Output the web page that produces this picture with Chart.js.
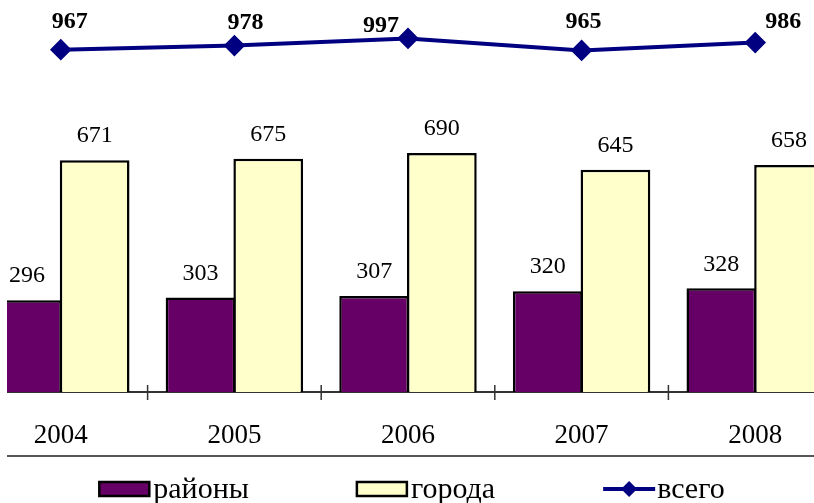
<!DOCTYPE html>
<html>
<head>
<meta charset="utf-8">
<script src="https://cdn.jsdelivr.net/npm/chart.js@4.4.1/dist/chart.umd.min.js"></script>
<style>
  html, body { margin: 0; padding: 0; background: #fff; }
  #clip { position: absolute; left: 7px; top: 0; width: 807px; height: 503px; overflow: hidden; }
  #box { position: absolute; left: -33px; top: 0; width: 868px; height: 503px; }
</style>
</head>
<body>
<div id="clip"><div id="box"><canvas id="chart"></canvas></div></div>
<script>
// data
const years = ['2004', '2005', '2006', '2007', '2008'];
const rayony = [296, 303, 307, 320, 328];
const goroda = [671, 675, 690, 645, 658];
const vsego = [967, 978, 997, 965, 986];

const serif = "'Liberation Serif', 'Times New Roman', serif";
// little nudges for the total labels, like in the original
const totalLabelShift = [[9, -28], [11, -23], [-27, -13], [2, -29], [28, -21]];

// labels, tick marks, separator and legend
const extras = {
  id: 'extras',
  afterDatasetsDraw(chart) {
    const ctx = chart.ctx;
    const xs = chart.scales.x;
    const bottom = chart.chartArea.bottom;
    ctx.save();
    ctx.textAlign = 'center';
    ctx.textBaseline = 'middle';
    ctx.fillStyle = '#000';

    // bar values
    ctx.font = '24px ' + serif;
    [0, 1].forEach(di => {
      chart.getDatasetMeta(di).data.forEach((bar, i) => {
        ctx.fillText(chart.data.datasets[di].data[i], bar.x, bar.y - 24);
      });
    });

    // totals
    ctx.font = 'bold 24px ' + serif;
    chart.getDatasetMeta(2).data.forEach((pt, i) => {
      const s = totalLabelShift[i];
      ctx.fillText(vsego[i], pt.x + s[0], pt.y + s[1]);
    });

    // tick marks between years
    ctx.strokeStyle = '#333';
    ctx.lineWidth = 1.5;
    const step = xs.getPixelForTick(1) - xs.getPixelForTick(0);
    for (let i = 0; i <= years.length; i++) {
      const px = xs.getPixelForTick(0) + (i - 0.5) * step;
      ctx.beginPath();
      ctx.moveTo(px, bottom - 7);
      ctx.lineTo(px, bottom + 8);
      ctx.stroke();
    }

    // separator under the years
    ctx.strokeStyle = '#555';
    ctx.lineWidth = 2;
    ctx.beginPath();
    ctx.moveTo(0, xs.bottom);
    ctx.lineTo(chart.width, xs.bottom);
    ctx.stroke();

    // legend
    ctx.font = '30px ' + serif;
    ctx.textAlign = 'left';
    const sets = chart.data.datasets;
    const gap = 108;
    const widths = sets.map(d => 54 + ctx.measureText(d.label).width);
    const total = widths.reduce((a, b) => a + b, 0) + gap * (sets.length - 1);
    let lx = chart.width / 2 + 4 - total / 2;
    const ly = xs.bottom + 33;
    sets.forEach((d, i) => {
      if (d.type === 'line') {
        ctx.strokeStyle = d.borderColor;
        ctx.lineWidth = 4;
        ctx.beginPath();
        ctx.moveTo(lx, ly);
        ctx.lineTo(lx + 52, ly);
        ctx.stroke();
        ctx.fillStyle = d.borderColor;
        ctx.beginPath();
        ctx.moveTo(lx + 26, ly - 8);
        ctx.lineTo(lx + 34, ly);
        ctx.lineTo(lx + 26, ly + 8);
        ctx.lineTo(lx + 18, ly);
        ctx.closePath();
        ctx.fill();
      } else {
        ctx.fillStyle = d.backgroundColor;
        ctx.fillRect(lx, ly - 7, 50, 14);
        ctx.strokeStyle = '#000';
        ctx.lineWidth = 2.5;
        ctx.strokeRect(lx, ly - 7, 50, 14);
      }
      ctx.fillStyle = '#000';
      ctx.fillText(d.label, lx + 54, ly + 1);
      lx += widths[i] + gap;
    });
    ctx.restore();
  }
};

new Chart(document.getElementById('chart'), {
  type: 'bar',
  data: {
    labels: years,
    datasets: [
      {
        label: 'районы',
        data: rayony,
        backgroundColor: '#660066',
        borderColor: '#000',
        borderWidth: 2.5,
        order: 1
      },
      {
        label: 'города',
        data: goroda,
        backgroundColor: '#FFFFCC',
        borderColor: '#000',
        borderWidth: 2.5,
        order: 1
      },
      {
        type: 'line',
        label: 'всего',
        data: vsego,
        borderColor: '#000080',
        backgroundColor: '#000080',
        borderWidth: 4,
        pointStyle: 'rectRot',
        pointRadius: 8,
        pointHoverRadius: 8,
        tension: 0,
        clip: false,
        order: 0
      }
    ]
  },
  options: {
    responsive: true,
    maintainAspectRatio: false,
    animation: false,
    layout: { autoPadding: false, padding: { top: 0, left: 0, right: 0, bottom: 47 } },
    datasets: {
      // slight overlap so the two bars share one black edge
      bar: { categoryPercentage: 0.78, barPercentage: 1.03 }
    },
    plugins: {
      legend: { display: false },
      tooltip: { enabled: false }
    },
    scales: {
      x: {
        grid: { display: false },
        border: { display: true, color: '#333', width: 2 },
        ticks: {
          color: '#000',
          font: { family: serif, size: 27 },
          padding: 20,
          maxRotation: 0
        },
        afterFit(scale) {
          scale.height = 64;
          scale.paddingLeft = 0;
          scale.paddingRight = 0;
        }
      },
      y: {
        display: false,
        min: 50,
        max: 1100
      }
    }
  },
  plugins: [extras]
});
</script>
</body>
</html>
